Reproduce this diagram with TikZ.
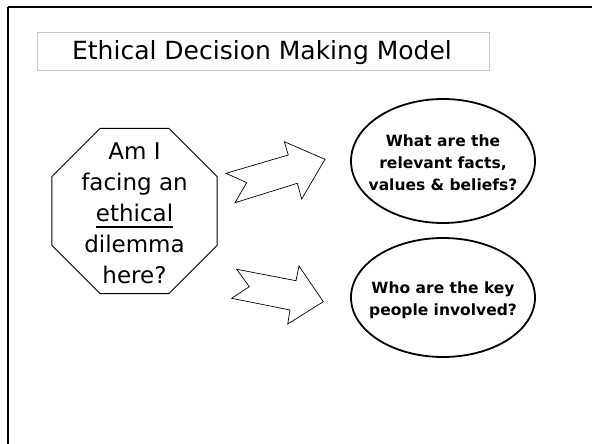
\documentclass[tikz,border=0pt]{standalone}
\usepackage{fontspec}
\setmainfont{DejaVu Sans}
\usetikzlibrary{shapes.geometric}
\newcommand{\thickul}[1]{{\setbox0\hbox{#1}\rlap{\rule[-7pt]{\wd0}{2pt}}\box0}}
\tikzset{
  frame/.style={draw=black, line width=2pt},
  titlebox/.style={draw=black!22, line width=0.7pt},
  octshape/.style={draw=black, line width=0.9pt, regular polygon, regular polygon sides=8, minimum size=179pt, inner sep=0pt},
  bubble/.style={draw=black, line width=1.8pt, ellipse, inner sep=0pt},
  blockarrow/.style={draw=black, line width=0.7pt, line join=miter, fill=white},
  octtext/.style={align=center, font=\fontsize{23}{31}\selectfont},
  bubbletext/.style={align=center, font=\fontsize{15.5}{22}\selectfont\bfseries}
}
\begin{document}
\begin{tikzpicture}[x=1pt, y=-1pt]
\useasboundingbox (0,0) rectangle (592,444);
% slide frame
\draw[frame] (7.5,7.5) -- (620,7.5);
\draw[frame] (7.5,7.5) -- (7.5,470);
% title
\draw[titlebox] (37,32) rectangle (489,70);
\node[anchor=base, font=\fontsize{25}{30}\selectfont, inner sep=0pt] (title) at (262,60) {Ethical Decision Making Model};
% octagon
\node[octshape] (oct) at (134.5,211) {};
\node[octtext] (octt) at (134.5,213) {Am I\\facing an\\\thickul{ethical}\\dilemma\\here?};
% ellipses
\node[bubble, minimum width=184pt, minimum height=124pt] (e1) at (443,161) {};
\node[bubbletext] (e1t) at (443,163) {What are the\\relevant facts,\\values \& beliefs?};
\node[bubble, minimum width=184pt, minimum height=119pt] (e2) at (443,297.5) {};
\node[bubbletext] (e2t) at (443,300) {Who are the key\\people involved?};
% block arrows
\draw[blockarrow] (226,173.3) -- (246.7,182.7) -- (235,202.7) -- (297.3,183.3) -- (301.7,199) -- (325,159.3) -- (284.3,141.7) -- (288.3,155) -- cycle;
\draw[blockarrow] (236.7,269.3) -- (249.3,286.7) -- (231.7,298.3) -- (290,310) -- (287.7,324) -- (323.3,301.7) -- (299,266) -- (296,280.7) -- cycle;
\end{tikzpicture}
\end{document}
